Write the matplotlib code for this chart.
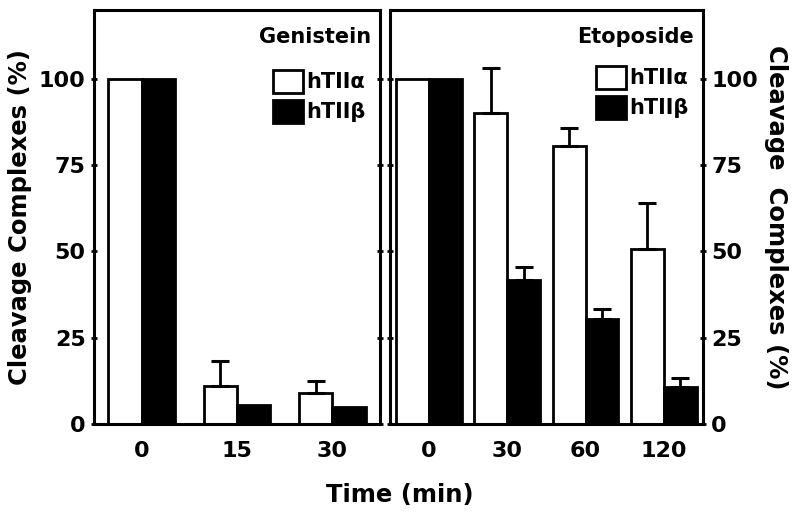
import numpy as np
import matplotlib.pyplot as plt

plt.rcParams['font.family'] = ['DejaVu Sans']
plt.rcParams['font.weight'] = 'bold'

# datos
gen_tiempos = ['0', '15', '30']
gen_alfa = [100, 11.0, 8.9]
gen_alfa_err = [0, 7.3, 3.5]
gen_beta = [100, 5.5, 5.0]
gen_beta_err = [0, 0, 0]

eto_tiempos = ['0', '30', '60', '120']
eto_alfa = [100, 90.0, 80.6, 50.6]
eto_alfa_err = [0, 13.3, 5.1, 13.5]
eto_beta = [100, 41.7, 30.4, 10.7]
eto_beta_err = [0, 3.9, 2.8, 2.7]

fig = plt.figure(figsize=(8, 5.15), dpi=100)
ax1 = fig.add_axes([0.1175, 0.1767, 0.3575, 0.804])
ax2 = fig.add_axes([0.4875, 0.1767, 0.391, 0.804])


def dibujar(ax, tiempos, alfa, alfa_err, beta, beta_err, titulo, ancho, leg_y):
    x = np.arange(len(tiempos))
    b1 = ax.bar(x - ancho / 2, alfa, ancho, color='white', edgecolor='black',
                linewidth=2, zorder=2, label='hTII\u03b1')
    b2 = ax.bar(x + ancho / 2, beta, ancho, color='black', edgecolor='black',
                linewidth=2, zorder=2, label='hTII\u03b2')
    for xs, vals, errs in [(x - ancho / 2, alfa, alfa_err), (x + ancho / 2, beta, beta_err)]:
        for xi, v, e in zip(xs, vals, errs):
            if e > 0:
                ax.errorbar(xi, v, yerr=[[0], [e]], fmt='none', ecolor='black',
                            elinewidth=2, capsize=6.5, capthick=2.2, zorder=3)
    ax.set_xticks(x)
    ax.set_xticklabels(tiempos, fontsize=16, fontweight='bold')
    ax.set_xlim(-0.5, len(tiempos) - 0.5)
    ax.set_ylim(0, 120)
    ax.set_yticks([0, 25, 50, 75, 100])
    ax.tick_params(axis='x', length=0, pad=12)
    ax.tick_params(axis='y', direction='inout', length=5, width=2, labelsize=16,
                   left=True, right=True)
    for s in ax.spines.values():
        s.set_linewidth(2.2)
    ax.text(0.97, 0.96, titulo, transform=ax.transAxes, ha='right', va='top',
            fontsize=15, fontweight='bold')
    ax.legend(handles=[b1, b2], loc='upper right', bbox_to_anchor=(1.0, leg_y),
              frameon=False, fontsize=15, handlelength=1.45, handleheight=1.3,
              handletextpad=0.15, labelspacing=0.35, borderaxespad=0.3)


dibujar(ax1, gen_tiempos, gen_alfa, gen_alfa_err, gen_beta, gen_beta_err, 'Genistein', 0.35, 0.89)
dibujar(ax2, eto_tiempos, eto_alfa, eto_alfa_err, eto_beta, eto_beta_err, 'Etoposide', 0.42, 0.9)

ax1.tick_params(axis='y', labelleft=True, labelright=False)
ax2.tick_params(axis='y', labelleft=False, labelright=True)
for t in ax1.get_yticklabels() + ax2.get_yticklabels():
    t.set_fontweight('bold')

ax1.set_ylabel('Cleavage Complexes (%)', fontsize=17.5, fontweight='bold', labelpad=5)
ax2.yaxis.set_label_position('right')
ax2.set_ylabel('Cleavage  Complexes (%)', fontsize=17.5, fontweight='bold',
               rotation=270, labelpad=22)
fig.text(0.5, 0.038, 'Time (min)', ha='center', va='center', fontsize=17.5, fontweight='bold')

fig.savefig('out.png', dpi=100)
